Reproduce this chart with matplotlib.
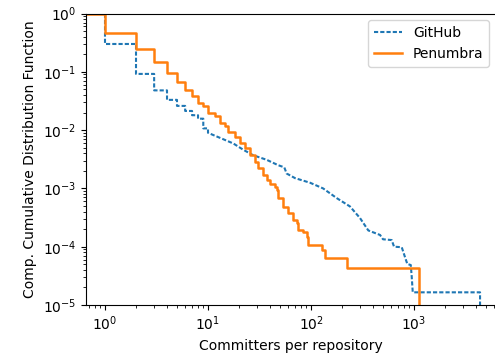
import matplotlib
matplotlib.use("Agg")
import matplotlib.pyplot as plt

# GitHub CCDF: explicit corner points (vertical drops repeat x)
github_x = [0.5, 1, 1, 2, 2, 3, 3, 4, 4, 5, 5, 6, 6, 7, 7, 8, 8, 9, 9, 10, 10,
            11.3, 14, 17.6, 22, 27.5, 37, 48, 55, 58, 70, 98, 131, 178, 239, 299, 360,
            468, 500, 607, 640, 760, 818, 861, 930, 950, 972, 4375, 4375]
github_y = [1.0, 1.0, 0.30, 0.30, 0.092, 0.092, 0.048, 0.048, 0.033, 0.033, 0.026, 0.026,
            0.0213, 0.0213, 0.018, 0.018, 0.0157, 0.0157, 0.0107, 0.0107, 0.009,
            0.0082, 0.0070, 0.0059, 0.0046, 0.0037, 0.0031, 0.0025, 0.0023, 0.0018,
            0.0015, 0.00125, 0.0010, 0.00068, 0.00049, 0.00031, 0.00019,
            0.000159, 0.000134, 0.00013, 0.00010, 0.000098, 6.6e-5, 5.05e-5, 4.85e-5,
            3.05e-5, 1.65e-5, 1.65e-5, 1e-7]

# Penumbra CCDF (step points: x where value changes, new value)
penumbra_x = [0.5, 1, 2, 3, 4, 5, 6, 7, 8, 9, 10, 11.7, 13.1, 14.6, 15.7, 18.3, 20.5, 22.9,
              25.6, 28.6, 30.8, 34.4, 37.2, 40, 44.7, 47.1, 48.2, 53.9, 60.2, 66.4, 72.6,
              75.3, 84.2, 90.8, 93, 128, 137, 222, 1119]
penumbra_y = [1.0, 0.47, 0.243, 0.147, 0.0966, 0.066, 0.0487, 0.038, 0.0288, 0.0255,
              0.0194, 0.0175, 0.0131, 0.01175, 0.0094, 0.0077, 0.00608, 0.00487, 0.00374,
              0.00287, 0.00221, 0.0017, 0.00139, 0.00119, 0.00107, 0.00094, 0.00068,
              0.000485, 0.000374, 0.000287, 0.000252, 0.000193, 0.000181, 0.000148,
              0.000107, 8.8e-5, 6.5e-5, 4.26e-5, 1e-7]

W, H = 495, 356
fig = plt.figure(figsize=(W / 100, H / 100), dpi=100)
ax = fig.add_axes([86 / W, 1 - 305 / H, 410 / W, (305 - 13.5) / H])

ax.plot(github_x, github_y, linestyle=(0, (2, 1)), color="#1f77b4",
        linewidth=1.5, label="GitHub")
ax.plot(penumbra_x, penumbra_y, drawstyle="steps-post", linestyle="-", color="#ff7f0e",
        linewidth=1.8, label="Penumbra")

ax.set_xscale("log")
ax.set_yscale("log")
ax.set_xlim(0.654, 6250)
ax.set_ylim(1e-5, 1)
ax.set_xlabel("Committers per repository")
ax.set_ylabel("Comp. Cumulative Distribution Function")
ax.legend(loc="upper right")

fig.savefig("out.png", dpi=100)
